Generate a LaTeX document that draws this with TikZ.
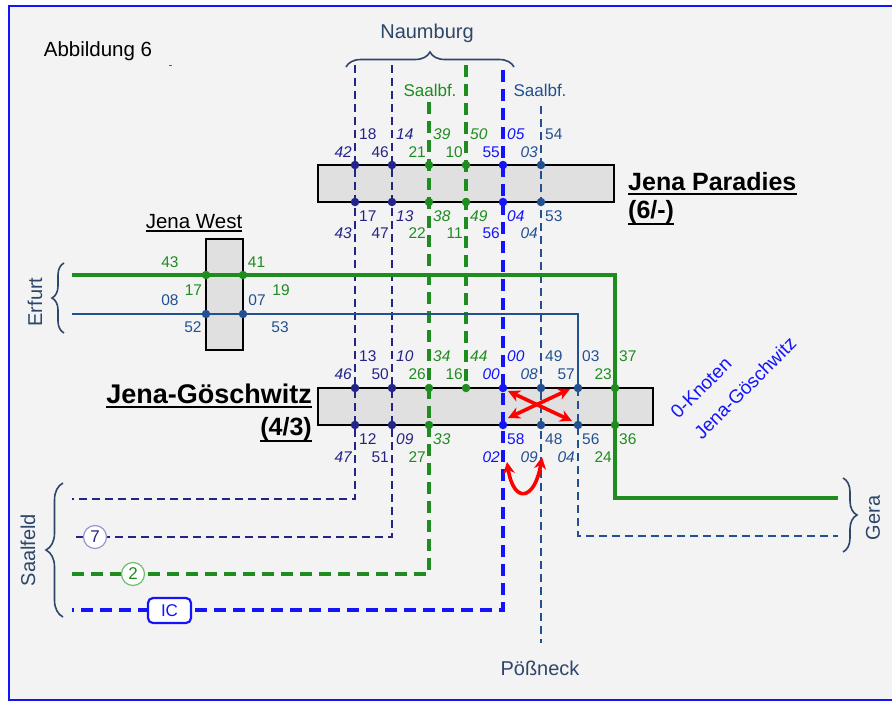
\documentclass[tikz,border=0pt]{standalone}
\usepackage{fontspec}
\setmainfont{Liberation Sans}
\usetikzlibrary{decorations.pathreplacing,arrows.meta}
\definecolor{navyc}{RGB}{36,36,135}
\definecolor{greenc}{RGB}{30,140,30}
\definecolor{bluec}{RGB}{20,20,250}
\definecolor{steelc}{RGB}{35,80,145}
\definecolor{labc}{RGB}{45,70,105}
\definecolor{bgc}{RGB}{243,243,243}
\definecolor{boxc}{RGB}{224,224,224}
\definecolor{lavc}{RGB}{150,150,210}
\definecolor{lgreenc}{RGB}{110,190,110}
\begin{document}
\begin{tikzpicture}[x=1pt,y=-1pt,
  lab/.style={font=\fontsize{15.5}{16}\selectfont, inner sep=0pt},
  labi/.style={font=\fontsize{15.5}{16}\selectfont\itshape, inner sep=0pt},
  rl/.style={anchor=west},
  ll/.style={anchor=east},
  stbox/.style={draw=black, fill=boxc, line width=2.4, inner sep=0pt},
  navyline/.style={navyc, line width=2.7, dash pattern=on 8 off 5},
  greendash/.style={greenc, line width=3.2, dash pattern=on 12 off 7},
  bluedash/.style={bluec, line width=3.6, dash pattern=on 12 off 7},
  steeldash/.style={steelc, line width=2.7, dash pattern=on 8 off 5},
  greensolid/.style={greenc, line width=3.2},
  steelsolid/.style={steelc, line width=2.4},
  dot/.style={circle, fill, inner sep=0pt, minimum size=8.5},
  bigtxt/.style={font=\fontsize{20}{22}\selectfont, text=labc, inner sep=0pt},
  titletxt/.style={font=\fontsize{25}{27}\selectfont\bfseries, inner sep=0pt},
  titletxtb/.style={font=\fontsize{27}{29}\selectfont\bfseries, inner sep=0pt},
  bracec/.style={labc, line width=1.6, decorate},
  redarr/.style={red, line width=3.6, {Stealth[length=12,width=12]}-{Stealth[length=12,width=12]}},
  ring/.style={circle, fill=white, line width=1.2, inner sep=0pt, minimum size=23, font=\fontsize{17}{17}\selectfont}
]
\useasboundingbox (0,0) rectangle (892,702);
\fill[white] (0,0) rectangle (892,702);
\fill[bgc] (9,6) rectangle (900,700);
\draw[bluec, line width=2.5] (900,6) -- (9,6) -- (9,700) -- (900,700);

% title
\node[font=\fontsize{20.5}{22}\selectfont, inner sep=0pt] (abb) at (98,51) {Abbildung 6};
\draw[greenc, line width=1] (169,65) -- (172,65);

% boxes
\node[stbox, minimum width=37, minimum height=111] (jw) at (224.5,294.5) {};
\node[stbox, minimum width=296, minimum height=37] (jp) at (466,183.5) {};
\node[stbox, minimum width=335, minimum height=37] (jg) at (485.5,406.5) {};

% coordinates
\coordinate (l1t) at (355,65);  \coordinate (l1c) at (355,499); \coordinate (l1e) at (72,499);
\coordinate (l2t) at (392,65);  \coordinate (l2c) at (392,537); \coordinate (l2e) at (72,537);
\coordinate (l3t) at (429,102); \coordinate (l3c) at (429,574); \coordinate (l3e) at (72,574);
\coordinate (l4t) at (466,65);  \coordinate (l4b) at (466,388);
\coordinate (l5t) at (503,70);  \coordinate (l5c) at (503,610); \coordinate (l5e) at (72,610);
\coordinate (l6t) at (541,106); \coordinate (l6b) at (541,643);
\coordinate (l7s) at (72,314);  \coordinate (l7c) at (578,314); \coordinate (l7m) at (578,388);
\coordinate (l7d) at (578,536); \coordinate (l7e) at (838,536);
\coordinate (l8s) at (72,275);  \coordinate (l8c) at (615,275); \coordinate (l8d) at (615,498);
\coordinate (l8e) at (838,498);

% lines
\draw[navyline] (l1t) -- (l1c) -- (l1e);
\draw[navyline] (l2t) -- (l2c) -- (l2e);
\draw[greendash] (l3t) -- (l3c) -- (l3e);
\draw[greendash] (l4t) -- (l4b);
\draw[bluedash] (l5t) -- (l5c) -- (l5e);
\draw[steeldash] (l6t) -- (l6b);
\draw[steelsolid] (l7s) -- (l7c) -- (l7m);
\draw[steeldash] (l7m) -- (l7d) -- (l7e);
\draw[greensolid] (l8s) -- (l8c) -- (l8d) -- (l8e);

% dots Jena West
\node[dot, greenc] (w1) at (206,275) {};
\node[dot, greenc] (w2) at (243,275) {};
\node[dot, steelc] (w3) at (206,314) {};
\node[dot, steelc] (w4) at (243,314) {};
% dots Paradies
\foreach \x/\c/\n in {355/navyc/1,392/navyc/2,429/greenc/3,466/greenc/4,503/bluec/5,541/steelc/6}{
  \node[dot, \c] (pt\n) at (\x,165) {};
  \node[dot, \c] (pb\n) at (\x,202) {};
}
% dots Goeschwitz
\foreach \x/\c/\n in {355/navyc/1,392/navyc/2,429/greenc/3,466/greenc/4,503/bluec/5,541/steelc/6,578/steelc/7,615/greenc/8}{
  \node[dot, \c] (gt\n) at (\x,388) {};
}
\foreach \x/\c/\n in {355/navyc/1,392/navyc/2,429/greenc/3,503/bluec/5,541/steelc/6,578/steelc/7,615/greenc/8}{
  \node[dot, \c] (gb\n) at (\x,425) {};
}

% Paradies labels
\node[lab, rl, navyc]  (a1) at (359,134) {18};
\node[labi, rl, navyc] (a2) at (396,134) {14};
\node[labi, rl, greenc] (a3) at (433,134) {39};
\node[labi, rl, greenc] (a4) at (470,134) {50};
\node[labi, rl, bluec] (a5) at (507,134) {05};
\node[lab, rl, steelc] (a6) at (545,134) {54};
\node[labi, ll, navyc] (b1) at (352,152) {42};
\node[lab, ll, navyc]  (b2) at (389,152) {46};
\node[lab, ll, greenc] (b3) at (426,152) {21};
\node[lab, ll, greenc] (b4) at (463,152) {10};
\node[lab, ll, bluec]  (b5) at (500,152) {55};
\node[labi, ll, steelc] (b6) at (538,152) {03};
\node[lab, rl, navyc]  (c1) at (359,216) {17};
\node[labi, rl, navyc] (c2) at (396,216) {13};
\node[labi, rl, greenc] (c3) at (433,216) {38};
\node[labi, rl, greenc] (c4) at (470,216) {49};
\node[labi, rl, bluec] (c5) at (507,216) {04};
\node[lab, rl, steelc] (c6) at (545,216) {53};
\node[labi, ll, navyc] (d1) at (352,233) {43};
\node[lab, ll, navyc]  (d2) at (389,233) {47};
\node[lab, ll, greenc] (d3) at (426,233) {22};
\node[lab, ll, greenc] (d4) at (463,233) {11};
\node[lab, ll, bluec]  (d5) at (500,233) {56};
\node[labi, ll, steelc] (d6) at (538,233) {04};

% Goeschwitz labels
\node[lab, rl, navyc]  (e1) at (359,356) {13};
\node[labi, rl, navyc] (e2) at (396,356) {10};
\node[labi, rl, greenc] (e3) at (433,356) {34};
\node[labi, rl, greenc] (e4) at (470,356) {44};
\node[labi, rl, bluec] (e5) at (507,356) {00};
\node[lab, rl, steelc] (e6) at (545,356) {49};
\node[lab, rl, steelc] (e7) at (582,356) {03};
\node[lab, rl, greenc] (e8) at (619,356) {37};
\node[labi, ll, navyc] (f1) at (352,374) {46};
\node[lab, ll, navyc]  (f2) at (389,374) {50};
\node[lab, ll, greenc] (f3) at (426,374) {26};
\node[lab, ll, greenc] (f4) at (463,374) {16};
\node[labi, ll, bluec] (f5) at (500,374) {00};
\node[labi, ll, steelc] (f6) at (538,374) {08};
\node[lab, ll, steelc] (f7) at (575,374) {57};
\node[lab, ll, greenc] (f8) at (612,374) {23};
\node[lab, rl, navyc]  (g1) at (359,439) {12};
\node[labi, rl, navyc] (g2) at (396,439) {09};
\node[labi, rl, greenc] (g3) at (433,439) {33};
\node[lab, rl, bluec]  (g5) at (507,439) {58};
\node[lab, rl, steelc] (g6) at (545,439) {48};
\node[lab, rl, steelc] (g7) at (582,439) {56};
\node[lab, rl, greenc] (g8) at (619,439) {36};
\node[labi, ll, navyc] (h1) at (352,457) {47};
\node[lab, ll, navyc]  (h2) at (389,457) {51};
\node[lab, ll, greenc] (h3) at (426,457) {27};
\node[labi, ll, bluec] (h5) at (500,457) {02};
\node[labi, ll, steelc] (h6) at (538,457) {09};
\node[labi, ll, steelc] (h7) at (575,457) {04};
\node[lab, ll, greenc] (h8) at (612,457) {24};

% Jena West labels
\node[lab, greenc] (k1) at (170,262) {43};
\node[lab, greenc] (k2) at (256.5,262) {41};
\node[lab, greenc] (k3) at (193.5,290) {17};
\node[lab, steelc] (k4) at (170,300) {08};
\node[lab, greenc] (k5) at (281,290) {19};
\node[lab, steelc] (k6) at (257,300) {07};
\node[lab, steelc] (k7) at (193,327) {52};
\node[lab, steelc] (k8) at (280,327) {53};

% station names
\node[font=\fontsize{20.5}{22}\selectfont, inner sep=0pt, anchor=base] (jwt) at (194,228) {Jena West};
\draw[line width=1.6] ([yshift=-3pt]jwt.base west) -- ([yshift=-3pt]jwt.base east);
\node[titletxt, anchor=base west] (jpt) at (628,190) {Jena Paradies};
\draw[line width=2.2] ([yshift=-4pt]jpt.base west) -- ([yshift=-4pt]jpt.base east);
\node[titletxt, anchor=base west] (jpn) at (628,218) {(6/-)};
\draw[line width=2.2] ([yshift=-6pt]jpn.base west) -- ([yshift=-6pt]jpn.base east);
\node[titletxtb, anchor=base east] (jgt) at (312,403) {Jena-Göschwitz};
\draw[line width=2.2] ([yshift=-4pt]jgt.base west) -- ([yshift=-4pt]jgt.base east);
\node[titletxt, anchor=base east] (jgn) at (312,435) {(4/3)};
\draw[line width=2.2] ([yshift=-6pt]jgn.base west) -- ([yshift=-6pt]jgn.base east);

% directions
\node[bigtxt] (nau) at (427,33) {Naumburg};
\draw[bracec, decoration={brace, amplitude=15}] (346,67) -- (514,67);
\node[font=\fontsize{17}{18}\selectfont, text=greenc, inner sep=0pt] (sb1) at (430,90) {Saalbf.};
\node[font=\fontsize{17}{18}\selectfont, text=steelc, inner sep=0pt] (sb2) at (540,90) {Saalbf.};
\node[bigtxt, rotate=90] (erf) at (35,302) {Erfurt};
\draw[bracec, decoration={brace, amplitude=12}] (64,333) -- (64,263);
\node[bigtxt, rotate=90] (saa) at (28,550) {Saalfeld};
\draw[bracec, decoration={brace, amplitude=17}] (63,617) -- (63,483);
\node[bigtxt, rotate=90] (ger) at (873,518) {Gera};
\draw[bracec, decoration={brace, amplitude=14}] (843,478) -- (843,552);
\node[bigtxt] (poe) at (540,668) {Pößneck};

% Saalfeld markers
\node[ring, draw=lavc, text=navyc] (c7) at (95,537) {7};
\node[ring, draw=lgreenc, text=greenc] (c2) at (133,574) {2};
\node[draw=bluec, fill=white, line width=2.2, rounded corners=5, minimum width=43, minimum height=25, inner sep=0pt, text=bluec, font=\fontsize{17}{17}\selectfont] (ic) at (169.5,610.5) {IC};

% 0-Knoten
\node[font=\fontsize{19}{20}\selectfont, text=bluec, rotate=45, inner sep=0pt] (kn1) at (701,388) {0-Knoten};
\node[font=\fontsize{19}{20}\selectfont, text=bluec, rotate=45, inner sep=0pt] (kn2) at (745,388) {Jena-Göschwitz};

% red arrows
\coordinate (r1a) at (508,391); \coordinate (r1b) at (572,421);
\coordinate (r2a) at (508,418); \coordinate (r2b) at (570,389);
\draw[redarr] (r1a) -- (r1b);
\draw[redarr] (r2a) -- (r2b);
\coordinate (r3a) at (507,462); \coordinate (r3b) at (542,457);
\draw[redarr] (r3a) .. controls (514,505) and (535,500) .. (r3b);
\end{tikzpicture}
\end{document}
